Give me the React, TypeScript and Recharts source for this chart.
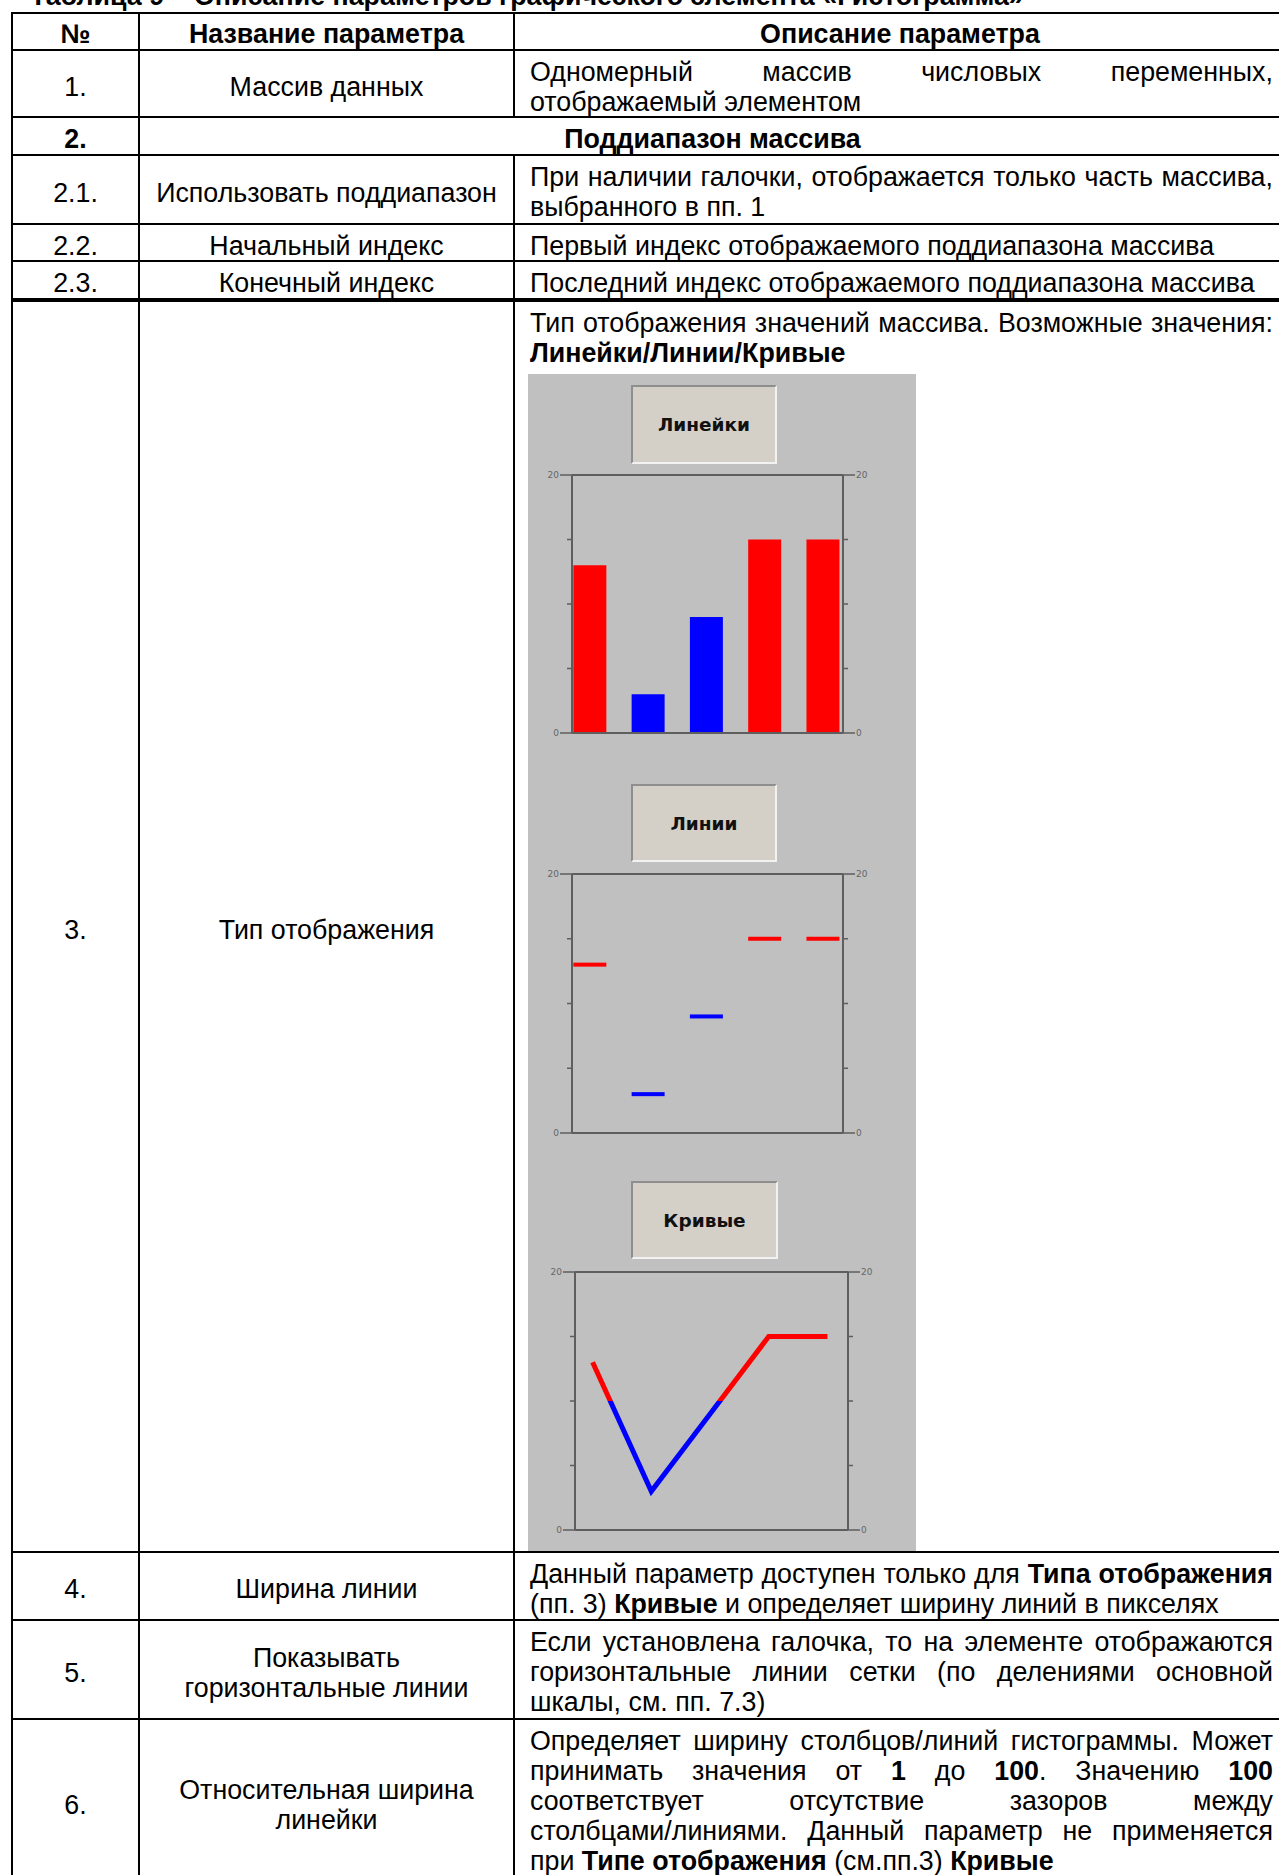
import React from 'react';
import { ComposedChart, Bar, Line, XAxis, YAxis, ReferenceLine, Cell } from 'recharts';

// ---------- chart data ----------
const INDEX = [0, 1, 2, 3, 4];
const VALUES = [13, 3, 9, 15, 15];
const THRESHOLD = 10;
const Y_TICKS = [0, 5, 10, 15, 20];
const Y_LABELED = [0, 20];
const Y_DOMAIN: [number, number] = [0, 20];
const X_DOMAIN: [number, number] = [-0.3, 4.35];
const MODE_LABELS = ['Линейки', 'Линии', 'Кривые'];

const COLOR_HIGH = '#ff0000';
const COLOR_LOW = '#0000ff';
const AXIS = '#5e5e5e';
const BAR_SIZE = 33;

const chartData = INDEX.map((i, k) => ({ i, v: VALUES[k] }));
const colorFor = (v: number) => (v > THRESHOLD ? COLOR_HIGH : COLOR_LOW);

// ---------- table text ----------
const HEADING = '**Таблица 9 – Описание параметров графического элемента «Гистограмма»**';
const ROWS: any[] = [
  { num: '№', name: ['Название параметра'], merged: null, descHeader: 'Описание параметра', header: true },
  { num: '1.', name: ['Массив данных'], desc: ['Одномерный массив числовых переменных,', 'отображаемый элементом'] },
  { num: '2.', merged: 'Поддиапазон массива', header: true },
  { num: '2.1.', name: ['Использовать поддиапазон'], desc: ['При наличии галочки, отображается только часть массива,', 'выбранного в пп. 1'] },
  { num: '2.2.', name: ['Начальный индекс'], desc: ['Первый индекс отображаемого поддиапазона массива'] },
  { num: '2.3.', name: ['Конечный индекс'], desc: ['Последний индекс отображаемого поддиапазона массива'] },
  { num: '3.', name: ['Тип отображения'], desc: ['Тип отображения значений массива. Возможные значения:', '**Линейки/Линии/Кривые**'] },
  { num: '4.', name: ['Ширина линии'], desc: ['Данный параметр доступен только для **Типа отображения**', '(пп. 3) **Кривые** и определяет ширину линий в пикселях'] },
  { num: '5.', name: ['Показывать', 'горизонтальные линии'], desc: ['Если установлена галочка, то на элементе отображаются', 'горизонтальные линии сетки (по делениями основной', 'шкалы, см. пп. 7.3)'] },
  { num: '6.', name: ['Относительная ширина', 'линейки'], desc: ['Определяет ширину столбцов/линий гистограммы. Может', 'принимать значения от **1** до **100**. Значению **100**', 'соответствует отсутствие зазоров между', 'столбцами/линиями. Данный параметр не применяется', 'при **Типе отображения** (см.пп.3) **Кривые**'] },
];

// ---------- layout ----------
const FONT = '"Liberation Sans", Arial, sans-serif';
const FS = 26.8;
const LH = 30;
const VLINES = [11, 138, 513, 1285];
const HLINES = [12, 49, 116, 154, 223, 260, 298, 1551, 1619, 1718, 1884];
const HTHICK = [2, 2, 2, 2, 2, 2, 4, 2, 2, 2, 2];
const BW = 2;
const PAD_L = 15;
const PAD_R = 12;
const PAD_T = 6;
const CENTER_SHIFT = 3;

const GRAY = { left: 528, top: 374, width: 388, height: 1178 };
const PANELS = [
  { kind: 'bars', btn: { left: 631, top: 385, w: 146, h: 79 }, plot: { left: 572, right: 843, top: 475, h: 258 } },
  { kind: 'lines', btn: { left: 631, top: 784, w: 146, h: 78 }, plot: { left: 572, right: 843, top: 874, h: 259 } },
  { kind: 'curve', btn: { left: 631, top: 1181, w: 147, h: 78 }, plot: { left: 575, right: 848, top: 1272, h: 258 } },
];

type Seg = { t: string; b: boolean };
function parse(line: string): Seg[][] {
  const words: Seg[][] = [];
  let cur: Seg[] = [];
  let bold = false;
  let buf = '';
  const flush = () => {
    if (buf) {
      cur.push({ t: buf, b: bold });
      buf = '';
    }
  };
  for (let i = 0; i < line.length; i++) {
    if (line[i] === '*' && line[i + 1] === '*') {
      flush();
      bold = !bold;
      i++;
      continue;
    }
    if (line[i] === ' ') {
      flush();
      if (cur.length) words.push(cur);
      cur = [];
      continue;
    }
    buf += line[i];
  }
  flush();
  if (cur.length) words.push(cur);
  return words;
}

const segs = (w: Seg[]) => w.map((s, k) => <span key={k} style={{ fontWeight: s.b ? 700 : 400 }}>{s.t}</span>);

function TextLine({ line, justify }: { line: string; justify: boolean }) {
  const words = parse(line);
  if (justify) {
    return (
      <div style={{ display: 'flex', justifyContent: 'space-between', whiteSpace: 'pre', height: LH }}>
        {words.map((w, k) => <span key={k}>{segs(w)}</span>)}
      </div>
    );
  }
  return (
    <div style={{ whiteSpace: 'pre', height: LH }}>
      {words.map((w, k) => (
        <React.Fragment key={k}>
          {k > 0 ? ' ' : ''}
          {segs(w)}
        </React.Fragment>
      ))}
    </div>
  );
}

function makeTick(side: 'left' | 'right') {
  return (props: any) => {
    const { x, y, payload } = props;
    const major = Y_LABELED.includes(payload.value);
    const len = major ? 12 : 5;
    const dir = side === 'left' ? -1 : 1;
    return (
      <g>
        <line x1={x} y1={y} x2={x + dir * len} y2={y} stroke={AXIS} strokeWidth={1.5} />
        {major && (
          <text x={x + dir * (len + 1)} y={y} dy={3} textAnchor={side === 'left' ? 'end' : 'start'} fontSize={9} fill="#666" fontFamily='"DejaVu Sans", sans-serif'>
            {payload.value}
          </text>
        )}
      </g>
    );
  };
}

function Panel({ p, label, idx }: any) {
  const leftW = p.plot.left - GRAY.left;
  const rightW = GRAY.left + GRAY.width - p.plot.right;
  const maxV = Math.max(...VALUES);
  const minV = Math.min(...VALUES);
  const off = (maxV - THRESHOLD) / (maxV - minV);
  const gid = 'curveGrad' + idx;
  return (
    <>
      <div
        style={{
          position: 'absolute', left: p.btn.left, top: p.btn.top, width: p.btn.w, height: p.btn.h, boxSizing: 'border-box',
          background: '#d4d0c8', borderTop: '2px solid #8e8e8e', borderLeft: '2px solid #8e8e8e',
          borderRight: '2px solid #f2f2f2', borderBottom: '2px solid #f2f2f2',
          display: 'flex', alignItems: 'center', justifyContent: 'center',
          fontFamily: '"DejaVu Sans", sans-serif', fontWeight: 700, fontSize: 18.5, color: '#111',
        }}
      >
        {label}
      </div>
      <div style={{ position: 'absolute', left: GRAY.left, top: p.plot.top - 10 }}>
        <ComposedChart width={GRAY.width} height={p.plot.h + 20} data={chartData} margin={{ top: 10, bottom: 10, left: 0, right: 0 }}>
          <defs>
            <linearGradient id={gid} x1="0" y1="0" x2="0" y2="1">
              <stop offset={0} stopColor={COLOR_HIGH} />
              <stop offset={off} stopColor={COLOR_HIGH} />
              <stop offset={off} stopColor={COLOR_LOW} />
              <stop offset={1} stopColor={COLOR_LOW} />
            </linearGradient>
          </defs>
          <XAxis dataKey="i" type="number" domain={X_DOMAIN} ticks={INDEX} allowDataOverflow hide />
          <YAxis yAxisId="l" orientation="left" width={leftW} domain={Y_DOMAIN} ticks={Y_TICKS} interval={0}
            tickLine={false} tickSize={0} tickMargin={0} axisLine={{ stroke: AXIS, strokeWidth: 2 }} tick={makeTick('left')} />
          <YAxis yAxisId="r" orientation="right" width={rightW} domain={Y_DOMAIN} ticks={Y_TICKS} interval={0}
            tickLine={false} tickSize={0} tickMargin={0} axisLine={{ stroke: AXIS, strokeWidth: 2 }} tick={makeTick('right')} />
          <ReferenceLine yAxisId="l" y={20} stroke={AXIS} strokeWidth={2} />
          <ReferenceLine yAxisId="l" y={0} stroke={AXIS} strokeWidth={2} />
          <Line yAxisId="r" dataKey="v" stroke="none" strokeWidth={0} dot={false} activeDot={false} legendType="none" isAnimationActive={false} />
          {p.kind === 'bars' && (
            <Bar yAxisId="l" dataKey="v" barSize={BAR_SIZE} isAnimationActive={false}>
              {chartData.map((d, k) => <Cell key={k} fill={colorFor(d.v)} />)}
            </Bar>
          )}
          {p.kind === 'lines' && (
            <Bar yAxisId="l" dataKey="v" barSize={BAR_SIZE} isAnimationActive={false}
              shape={(s: any) => <rect x={s.x} y={s.y - 2} width={s.width} height={4} fill={colorFor(s.payload ? s.payload.v : 0)} />} />
          )}
          {p.kind === 'curve' && (
            <Line yAxisId="l" dataKey="v" type="linear" stroke={`url(#${gid})`} strokeWidth={5} dot={false} activeDot={false} isAnimationActive={false} />
          )}
        </ComposedChart>
      </div>
    </>
  );
}

export default function App() {
  const cells: React.ReactNode[] = [];
  const lines: React.ReactNode[] = [];

  HLINES.forEach((y, k) => {
    lines.push(<div key={'h' + k} style={{ position: 'absolute', left: VLINES[0], top: y, width: VLINES[3] - VLINES[0] + BW, height: HTHICK[k], background: '#000' }} />);
  });
  ROWS.forEach((r, ri) => {
    const top = HLINES[ri];
    const bottom = HLINES[ri + 1];
    const cTop = top + HTHICK[ri];
    const cH = bottom - cTop;
    VLINES.forEach((x, vi) => {
      if (r.merged && vi === 2) return;
      lines.push(<div key={`v${ri}_${vi}`} style={{ position: 'absolute', left: x, top, width: BW, height: bottom - top + HTHICK[ri + 1], background: '#000' }} />);
    });
    const shift = ri === 0 ? 2 : CENTER_SHIFT;
    const centerBox = (key: string, x0: number, x1: number, content: string[], bold: boolean) => (
      <div key={key} style={{ position: 'absolute', left: x0, top: cTop + shift, width: x1 - x0, height: cH, display: 'flex', flexDirection: 'column', alignItems: 'center', justifyContent: 'center', fontWeight: bold ? 700 : 400, lineHeight: LH + 'px', whiteSpace: 'pre' }}>
        {content.map((t, k) => <div key={k}>{t}</div>)}
      </div>
    );
    cells.push(centerBox('n' + ri, VLINES[0] + BW, VLINES[1], [r.num], !!r.header));
    if (r.merged) {
      cells.push(centerBox('m' + ri, VLINES[1] + BW, VLINES[3], [r.merged], true));
      return;
    }
    cells.push(centerBox('a' + ri, VLINES[1] + BW, VLINES[2], r.name, !!r.header));
    if (r.descHeader) {
      cells.push(centerBox('d' + ri, VLINES[2] + BW, VLINES[3], [r.descHeader], true));
    } else {
      cells.push(
        <div key={'d' + ri} style={{ position: 'absolute', left: VLINES[2] + BW + PAD_L, top: cTop + PAD_T, width: VLINES[3] - VLINES[2] - BW - PAD_L - PAD_R, lineHeight: LH + 'px' }}>
          {r.desc.map((l: string, k: number) => <TextLine key={k} line={l} justify={k < r.desc.length - 1} />)}
        </div>
      );
    }
  });

  return (
    <div style={{ position: 'fixed', left: 0, top: 0, width: 1279, height: 1875, overflow: 'hidden', background: '#fff', fontFamily: FONT, fontSize: FS, color: '#000' }}>
      <div style={{ position: 'absolute', left: 30, top: -19, lineHeight: LH + 'px', whiteSpace: 'pre' }}>
        <TextLine line={HEADING} justify={false} />
      </div>
      <div style={{ position: 'absolute', left: GRAY.left, top: GRAY.top, width: GRAY.width, height: GRAY.height, background: '#c0c0c0' }} />
      {PANELS.map((p, k) => <Panel key={k} p={p} label={MODE_LABELS[k]} idx={k} />)}
      {cells}
      {lines}
    </div>
  );
}
